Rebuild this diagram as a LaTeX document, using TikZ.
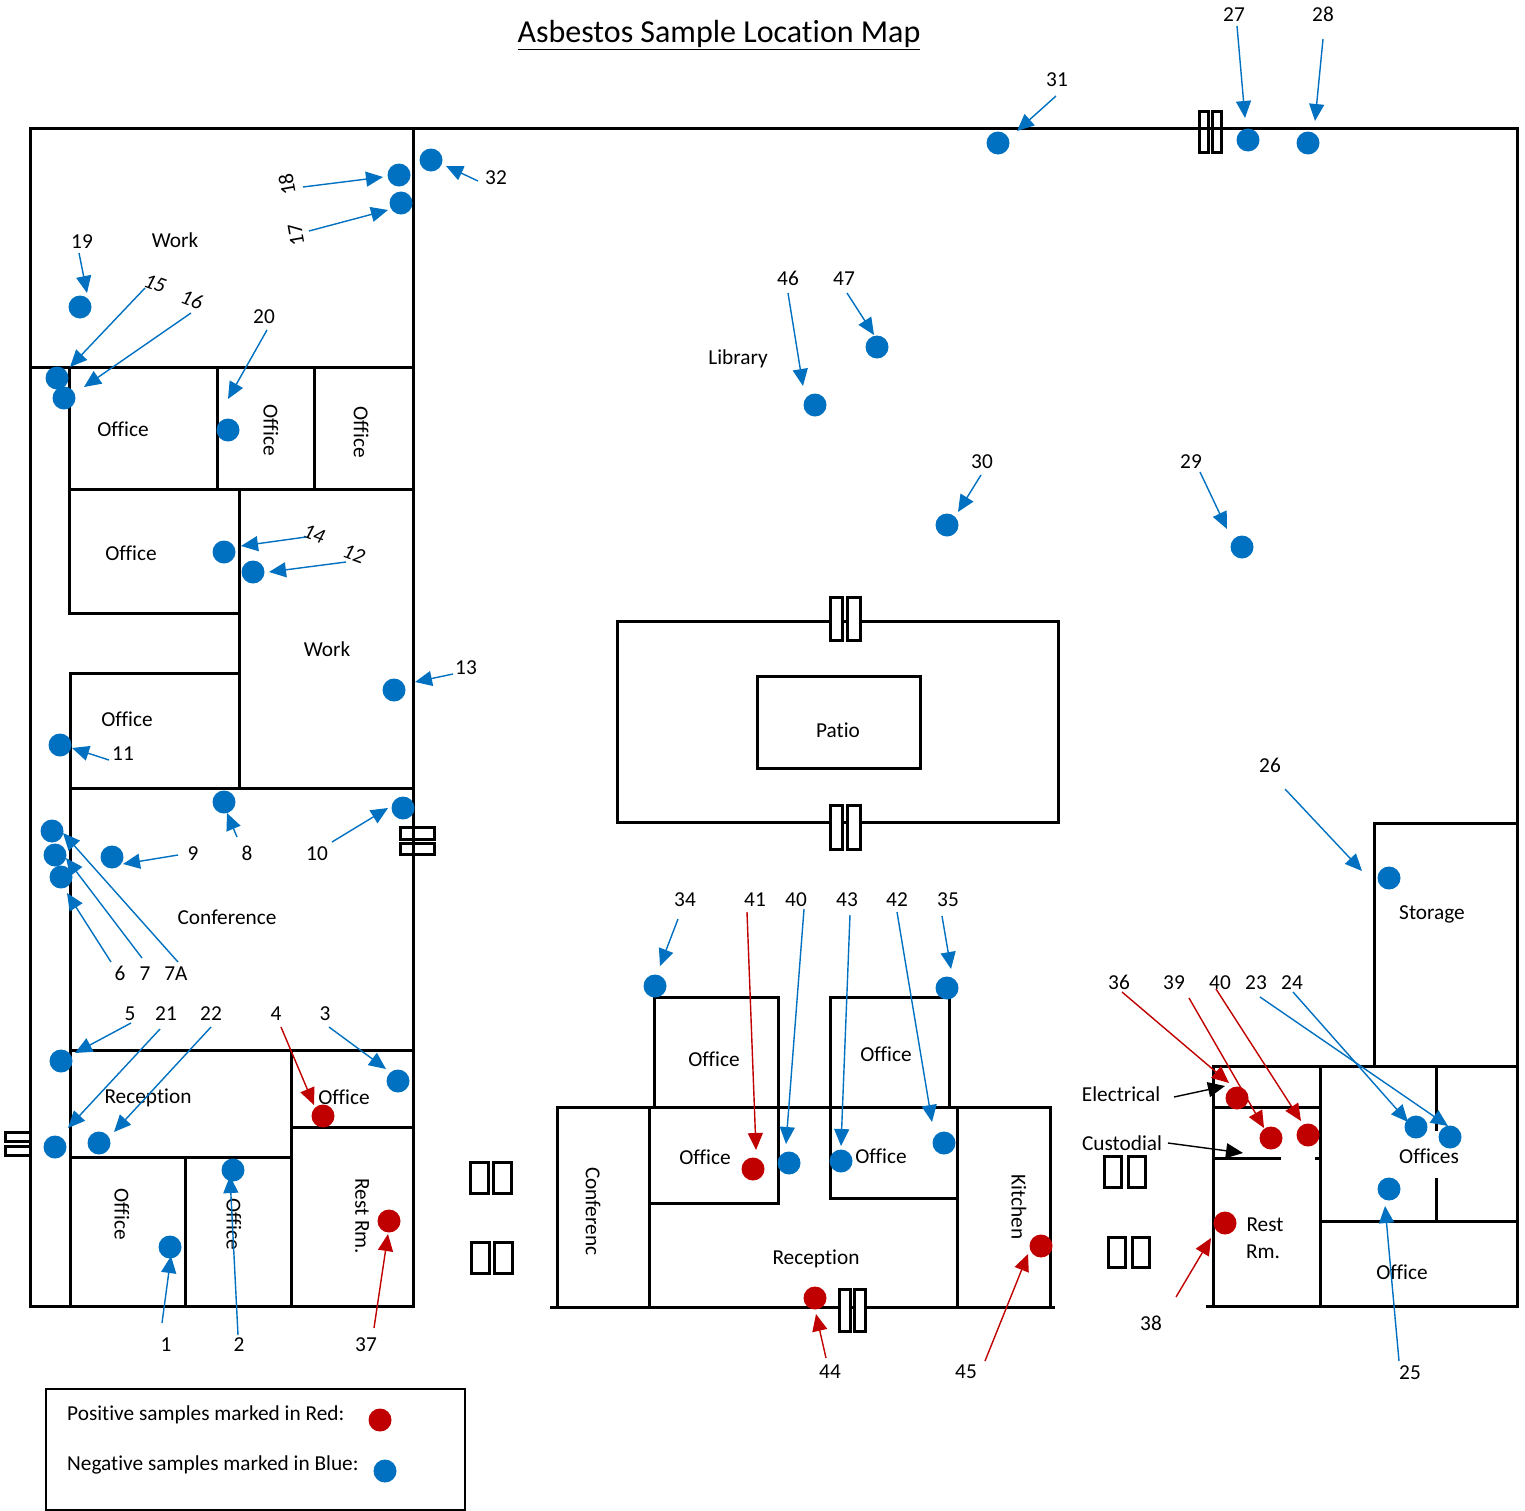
\documentclass[tikz,border=0pt]{standalone}
\usepackage{fontspec}
\setmainfont{Carlito}[Ligatures=NoCommon]
\usetikzlibrary{arrows.meta}
\definecolor{sampleblue}{HTML}{0070C0}
\definecolor{samplered}{HTML}{C00000}

\begin{document}
\begin{tikzpicture}[x=1pt,y=-1pt,
	wall/.style={line width=3pt,line cap=rect,xshift=-0.2pt,yshift=0.1pt},
	lab/.style={font=\fontsize{21.3}{25}\selectfont,inner sep=0pt,yshift=-0.6pt},
	sidelab/.style={lab,rotate=-90,xshift=0.6pt,yshift=2pt},
	bluedot/.style={circle,fill=sampleblue,inner sep=0pt,minimum size=23pt},
	reddot/.style={circle,fill=samplered,inner sep=0pt,minimum size=23pt},
	bluearrow/.style={-{Triangle[length=17pt,width=15pt]},sampleblue,line width=1.4pt},
	redarrow/.style={-{Triangle[length=17pt,width=15pt]},samplered,line width=1.4pt},
	blackarrow/.style={-{Triangle[length=17pt,width=15pt]},black,line width=1.4pt}]
	\useasboundingbox (0,0) rectangle (1525,1510);

	\node [font=\fontsize{32}{38}\selectfont,inner sep=0pt] (title) at (719,35) {\underline{Asbestos Sample Location Map}};

	\draw [wall] (31,1307) -- (31,129) -- (1518,129) -- (1518,1307) -- (1321,1307);
	\draw [wall] (31,1307) -- (414,1307) -- (414,129);
	\draw [wall] (31,368) -- (414,368);
	\draw [wall] (70,368) -- (70,614) -- (240,614);
	\draw [wall] (218,368) -- (218,490);
	\draw [wall] (315,368) -- (315,490);
	\draw [wall] (70,490) -- (414,490);
	\draw [wall] (240,490) -- (240,789);
	\draw [wall] (240,674) -- (71,674) -- (71,1307);
	\draw [wall] (71,789) -- (414,789);
	\draw [wall] (71,1051) -- (414,1051);
	\draw [wall] (292,1051) -- (292,1307);
	\draw [wall] (292,1128) -- (414,1128);
	\draw [wall] (71,1158) -- (292,1158);
	\draw [wall] (186,1158) -- (186,1307);

	\draw [wall] (401,828) rectangle (435,840);
	\draw [wall] (401,844) rectangle (435,855);
	\draw [wall] (6,1133) rectangle (31,1142);
	\draw [wall] (6,1147) rectangle (31,1156);
	\draw [wall] (1200,112) rectangle (1209,153);
	\draw [wall] (1213,112) rectangle (1222,153);

	\draw [wall,fill=white] (618,622) rectangle (1059,823);
	\draw [wall] (758,677) rectangle (921,769);
	\draw [wall,fill=white] (831,598) rectangle (843,641);
	\draw [wall,fill=white] (848,598) rectangle (861,641);
	\draw [wall,fill=white] (831,806) rectangle (843,850);
	\draw [wall,fill=white] (848,806) rectangle (861,850);

	\draw [wall] (552,1308) -- (1054,1308);
	\draw [wall] (558,1308) -- (558,1108) -- (1051,1108) -- (1051,1308);
	\draw [wall] (650,1108) -- (650,1308);
	\draw [wall] (958,1108) -- (958,1308);
	\draw [wall] (655,1108) -- (655,998) -- (779,998) -- (779,1204) -- (650,1204);
	\draw [wall] (831,1199) -- (831,998) -- (950,998) -- (950,1108);
	\draw [wall] (831,1199) -- (958,1199);
	\draw [wall,fill=white] (840,1290) rectangle (851,1332);
	\draw [wall,fill=white] (855,1290) rectangle (866,1332);

	\draw [wall] (471,1163) rectangle (489,1194);
	\draw [wall] (494,1163) rectangle (512,1194);
	\draw [wall] (472,1243) rectangle (490,1274);
	\draw [wall] (495,1243) rectangle (513,1274);
	\draw [wall] (1105,1157) rectangle (1122,1188);
	\draw [wall] (1129,1157) rectangle (1146,1188);
	\draw [wall] (1109,1238) rectangle (1126,1268);
	\draw [wall] (1133,1238) rectangle (1150,1268);

	\draw [wall] (1208,1307) -- (1321,1307);
	\draw [wall] (1214,1307) -- (1214,1067) -- (1518,1067);
	\draw [wall] (1321,1067) -- (1321,1307);
	\draw [wall] (1214,1108) -- (1321,1108);
	\draw [wall] (1214,1159) -- (1280,1159);
	\draw [wall] (1317,1159) -- (1321,1159);
	\draw [wall] (1437,1067) -- (1437,1130);
	\draw [wall] (1437,1180) -- (1437,1222);
	\draw [wall] (1321,1222) -- (1518,1222);
	\draw [wall] (1375,1067) -- (1375,824) -- (1518,824);

	\draw [line width=2pt] (46,1389) rectangle (465,1510);

	\node [lab] (work1) at (175,240) {Work};
	\node [lab] (office1) at (123,429) {Office};
	\node [sidelab] (office2) at (269,429) {Office};
	\node [sidelab] (office3) at (359,431) {Office};
	\node [lab] (office4) at (131,553) {Office};
	\node [lab] (work2) at (327,649) {Work};
	\node [lab] (office5) at (127,719) {Office};
	\node [lab] (conf1) at (227,917) {Conference};
	\node [lab] (recep1) at (148,1097) {Reception};
	\node [lab] (office6) at (344,1097) {Office};
	\node [sidelab] (office7) at (120,1213) {Office};
	\node [sidelab] (office8) at (232,1223) {Office};
	\node [sidelab] (rest1) at (360,1215) {Rest Rm.};
	\node [lab] (library) at (738,358) {Library};
	\node [lab] (patio) at (838,730) {Patio};
	\node [lab] (office9) at (714,1059) {Office};
	\node [lab] (office10) at (886,1054) {Office};
	\node [lab] (office11) at (705,1157) {Office};
	\node [lab] (office12) at (881,1156) {Office};
	\node [sidelab] (conf2) at (591,1210) {Conferenc};
	\node [sidelab] (kitchen) at (1017,1206) {Kitchen};
	\node [lab] (recep2) at (816,1258) {Reception};
	\node [lab] (storage) at (1432,914) {Storage};
	\node [lab] (electrical) at (1121,1094) {Electrical};
	\node [lab] (custodial) at (1122,1143) {Custodial};
	\node [lab] (offices) at (1429,1156) {Offices};
	\node [lab] (rest2) at (1265,1224) {Rest};
	\node [lab] (rest3) at (1263,1251) {Rm.};
	\node [lab] (office13) at (1402,1272) {Office};

	\node [lab] (n1) at (166,1344) {1};
	\node [lab] (n2) at (239,1344) {2};
	\node [lab] (n3) at (325,1013) {3};
	\node [lab] (n4) at (276,1013) {4};
	\node [lab] (n5) at (130,1013) {5};
	\node [lab] (n6) at (120,973) {6};
	\node [lab] (n7) at (145,973) {7};
	\node [lab] (n7a) at (176,973) {7A};
	\node [lab] (n8) at (247,853) {8};
	\node [lab] (n9) at (193,853) {9};
	\node [lab] (n10) at (317,853) {10};
	\node [lab] (n11) at (123,753) {11};
	\node [lab,rotate=-20] (n12) at (354,553) {\itshape 12};
	\node [lab] (n13) at (466,667) {13};
	\node [lab,rotate=-20] (n14) at (314,533) {\itshape 14};
	\node [lab,rotate=-20] (n15) at (155,283) {\itshape 15};
	\node [lab,rotate=-20] (n16) at (192,299) {\itshape 16};
	\node [lab,rotate=100] (n17) at (296,234) {17};
	\node [lab,rotate=100] (n18) at (287,184) {18};
	\node [lab] (n19) at (82,241) {19};
	\node [lab] (n20) at (264,316) {20};
	\node [lab] (n21) at (166,1013) {21};
	\node [lab] (n22) at (211,1013) {22};
	\node [lab] (n23) at (1256,982) {23};
	\node [lab] (n24) at (1292,982) {24};
	\node [lab] (n25) at (1410,1372) {25};
	\node [lab] (n26) at (1270,765) {26};
	\node [lab] (n27) at (1234,14) {27};
	\node [lab] (n28) at (1323,14) {28};
	\node [lab] (n29) at (1191,461) {29};
	\node [lab] (n30) at (982,461) {30};
	\node [lab] (n31) at (1057,79) {31};
	\node [lab] (n32) at (496,177) {32};
	\node [lab] (n34) at (685,899) {34};
	\node [lab] (n35) at (948,899) {35};
	\node [lab] (n36) at (1119,982) {36};
	\node [lab] (n37) at (366,1344) {37};
	\node [lab] (n38) at (1151,1323) {38};
	\node [lab] (n39) at (1174,982) {39};
	\node [lab] (n40) at (796,899) {40};
	\node [lab] (n40r) at (1220,982) {40};
	\node [lab] (n41) at (755,899) {41};
	\node [lab] (n42) at (897,899) {42};
	\node [lab] (n43) at (847,899) {43};
	\node [lab] (n44) at (830,1371) {44};
	\node [lab] (n45) at (966,1371) {45};
	\node [lab] (n46) at (788,278) {46};
	\node [lab] (n47) at (844,278) {47};

	\node [bluedot] (d1) at (170,1247) {};
	\node [bluedot] (d2) at (233,1170) {};
	\node [bluedot] (d3) at (398,1081) {};
	\node [reddot] (d4) at (323,1116) {};
	\node [bluedot] (d5) at (61,1061) {};
	\node [bluedot] (d6) at (61,877) {};
	\node [bluedot] (d7) at (55,855) {};
	\node [bluedot] (d7a) at (52,831) {};
	\node [bluedot] (d8) at (224,802) {};
	\node [bluedot] (d9) at (112,857) {};
	\node [bluedot] (d10) at (403,808) {};
	\node [bluedot] (d11) at (60,745) {};
	\node [bluedot] (d12) at (253,572) {};
	\node [bluedot] (d13) at (394,690) {};
	\node [bluedot] (d14) at (224,552) {};
	\node [bluedot] (d15) at (57,378) {};
	\node [bluedot] (d16) at (64,398) {};
	\node [bluedot] (d17) at (401,203) {};
	\node [bluedot] (d18) at (399,175) {};
	\node [bluedot] (d19) at (80,307) {};
	\node [bluedot] (d20) at (228,430) {};
	\node [bluedot] (d21) at (55,1147) {};
	\node [bluedot] (d22) at (99,1143) {};
	\node [bluedot] (d23) at (1450,1137) {};
	\node [bluedot] (d24) at (1416,1127) {};
	\node [bluedot] (d25) at (1389,1189) {};
	\node [bluedot] (d26) at (1389,878) {};
	\node [bluedot] (d27) at (1248,140) {};
	\node [bluedot] (d28) at (1308,143) {};
	\node [bluedot] (d29) at (1242,547) {};
	\node [bluedot] (d30) at (947,525) {};
	\node [bluedot] (d31) at (998,143) {};
	\node [bluedot] (d32) at (431,160) {};
	\node [bluedot] (d34) at (655,986) {};
	\node [bluedot] (d35) at (947,988) {};
	\node [reddot] (d36) at (1237,1098) {};
	\node [reddot] (d37) at (389,1221) {};
	\node [reddot] (d38) at (1225,1223) {};
	\node [reddot] (d39) at (1271,1138) {};
	\node [bluedot] (d40) at (789,1163) {};
	\node [reddot] (d40r) at (1308,1135) {};
	\node [reddot] (d41) at (753,1169) {};
	\node [bluedot] (d42) at (944,1143) {};
	\node [bluedot] (d43) at (841,1161) {};
	\node [reddot] (d44) at (815,1298) {};
	\node [reddot] (d45) at (1041,1246) {};
	\node [bluedot] (d46) at (815,405) {};
	\node [bluedot] (d47) at (877,347) {};

	\coordinate (t1) at (162,1323); \coordinate (h1) at (171,1256); \draw [bluearrow] (t1) -- (h1);
	\coordinate (t2) at (238,1335); \coordinate (h2) at (230,1176); \draw [bluearrow] (t2) -- (h2);
	\coordinate (t3) at (329,1027); \coordinate (h3) at (386,1069); \draw [bluearrow] (t3) -- (h3);
	\coordinate (t4) at (281,1027); \coordinate (h4) at (314,1105); \draw [redarrow] (t4) -- (h4);
	\coordinate (t5) at (131,1023); \coordinate (h5) at (75,1053); \draw [bluearrow] (t5) -- (h5);
	\coordinate (t6) at (111,962); \coordinate (h6) at (67,893); \draw [bluearrow] (t6) -- (h6);
	\coordinate (t7) at (142,958); \coordinate (h7) at (66,858); \draw [bluearrow] (t7) -- (h7);
	\coordinate (t7a) at (178,962); \coordinate (h7a) at (63,833); \draw [bluearrow] (t7a) -- (h7a);
	\coordinate (t8) at (237,837); \coordinate (h8) at (227,813); \draw [bluearrow] (t8) -- (h8);
	\coordinate (t9) at (178,855); \coordinate (h9) at (123,864); \draw [bluearrow] (t9) -- (h9);
	\coordinate (t10) at (332,842); \coordinate (h10) at (388,808); \draw [bluearrow] (t10) -- (h10);
	\coordinate (t11) at (109,760); \coordinate (h11) at (72,748); \draw [bluearrow] (t11) -- (h11);
	\coordinate (t12) at (346,562); \coordinate (h12) at (269,572); \draw [bluearrow] (t12) -- (h12);
	\coordinate (t13) at (453,674); \coordinate (h13) at (415,682); \draw [bluearrow] (t13) -- (h13);
	\coordinate (t14) at (306,537); \coordinate (h14) at (241,546); \draw [bluearrow] (t14) -- (h14);
	\coordinate (t15) at (145,288); \coordinate (h15) at (70,367); \draw [bluearrow] (t15) -- (h15);
	\coordinate (t16) at (191,313); \coordinate (h16) at (84,387); \draw [bluearrow] (t16) -- (h16);
	\coordinate (t17) at (309,231); \coordinate (h17) at (388,210); \draw [bluearrow] (t17) -- (h17);
	\coordinate (t18) at (303,187); \coordinate (h18) at (383,177); \draw [bluearrow] (t18) -- (h18);
	\coordinate (t19) at (79,253); \coordinate (h19) at (87,293); \draw [bluearrow] (t19) -- (h19);
	\coordinate (t20) at (267,330); \coordinate (h20) at (228,399); \draw [bluearrow] (t20) -- (h20);
	\coordinate (t21) at (160,1029); \coordinate (h21) at (68,1128); \draw [bluearrow] (t21) -- (h21);
	\coordinate (t22) at (211,1027); \coordinate (h22) at (114,1132); \draw [bluearrow] (t22) -- (h22);
	\coordinate (t23) at (1260,997); \coordinate (h23) at (1448,1126); \draw [bluearrow] (t23) -- (h23);
	\coordinate (t24) at (1293,992); \coordinate (h24) at (1408,1122); \draw [bluearrow] (t24) -- (h24);
	\coordinate (t25) at (1399,1361); \coordinate (h25) at (1385,1206); \draw [bluearrow] (t25) -- (h25);
	\coordinate (t26) at (1285,789); \coordinate (h26) at (1362,871); \draw [bluearrow] (t26) -- (h26);
	\coordinate (t27) at (1237,26); \coordinate (h27) at (1245,118); \draw [bluearrow] (t27) -- (h27);
	\coordinate (t28) at (1323,39); \coordinate (h28) at (1315,121); \draw [bluearrow] (t28) -- (h28);
	\coordinate (t29) at (1200,472); \coordinate (h29) at (1227,529); \draw [bluearrow] (t29) -- (h29);
	\coordinate (t30) at (981,475); \coordinate (h30) at (958,512); \draw [bluearrow] (t30) -- (h30);
	\coordinate (t31) at (1056,96); \coordinate (h31) at (1017,131); \draw [bluearrow] (t31) -- (h31);
	\coordinate (t32) at (478,181); \coordinate (h32) at (446,166); \draw [bluearrow] (t32) -- (h32);
	\coordinate (t34) at (678,919); \coordinate (h34) at (660,966); \draw [bluearrow] (t34) -- (h34);
	\coordinate (t35) at (942,916); \coordinate (h35) at (951,969); \draw [bluearrow] (t35) -- (h35);
	\coordinate (t36) at (1122,992); \coordinate (h36) at (1229,1083); \draw [redarrow] (t36) -- (h36);
	\coordinate (t37) at (374,1328); \coordinate (h37) at (388,1234); \draw [redarrow] (t37) -- (h37);
	\coordinate (t38) at (1176,1297); \coordinate (h38) at (1211,1238); \draw [redarrow] (t38) -- (h38);
	\coordinate (t39) at (1189,998); \coordinate (h39) at (1264,1128); \draw [redarrow] (t39) -- (h39);
	\coordinate (t40) at (804,909); \coordinate (h40) at (786,1144); \draw [bluearrow] (t40) -- (h40);
	\coordinate (t40r) at (1216,989); \coordinate (h40r) at (1301,1121); \draw [redarrow] (t40r) -- (h40r);
	\coordinate (t41) at (747,912); \coordinate (h41) at (756,1150); \draw [redarrow] (t41) -- (h41);
	\coordinate (t42) at (897,912); \coordinate (h42) at (932,1122); \draw [bluearrow] (t42) -- (h42);
	\coordinate (t43) at (850,915); \coordinate (h43) at (841,1146); \draw [bluearrow] (t43) -- (h43);
	\coordinate (t44) at (826,1358); \coordinate (h44) at (816,1314); \draw [redarrow] (t44) -- (h44);
	\coordinate (t45) at (985,1361); \coordinate (h45) at (1028,1254); \draw [redarrow] (t45) -- (h45);
	\coordinate (t46) at (788,293); \coordinate (h46) at (803,386); \draw [bluearrow] (t46) -- (h46);
	\coordinate (t47) at (847,293); \coordinate (h47) at (874,335); \draw [bluearrow] (t47) -- (h47);
	\coordinate (telec) at (1174,1097); \coordinate (helec) at (1225,1086); \draw [blackarrow] (telec) -- (helec);
	\coordinate (tcust) at (1168,1143); \coordinate (hcust) at (1243,1153); \draw [blackarrow] (tcust) -- (hcust);

	\node [lab,anchor=west] (posnote) at (67,1414) {Positive samples marked in Red:};
	\node [lab,anchor=west] (negnote) at (67,1464) {Negative samples marked in Blue:};
	\node [reddot] (posdot) at (380,1420) {};
	\node [bluedot] (negdot) at (385,1471) {};
\end{tikzpicture}
\end{document}
